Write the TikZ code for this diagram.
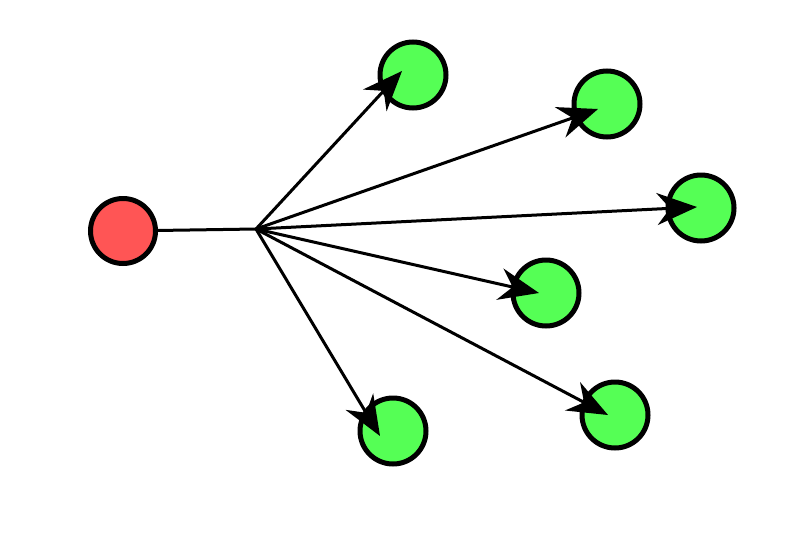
\documentclass[tikz,border=0pt]{standalone}
\usetikzlibrary{arrows.meta}
\definecolor{redfill}{HTML}{FF5555}
\definecolor{greenfill}{HTML}{55FF55}
\begin{document}
\begin{tikzpicture}[x=1pt,y=-1pt,
  src/.style={circle,draw=black,line width=5pt,fill=redfill,minimum size=65pt,inner sep=0pt},
  dst/.style={circle,draw=black,line width=5pt,fill=greenfill,minimum size=66pt,inner sep=0pt},
  edge/.style={draw=black,line width=3pt},
  arr/.style={edge,-{Stealth[length=40pt,width=32pt,inset=13pt]}}]
\useasboundingbox (0,0) rectangle (800,533);
\node[src] (r) at (123,231) {};
\node[dst] (g1) at (413,75) {};
\node[dst] (g2) at (607,104) {};
\node[dst] (g3) at (701,208) {};
\node[dst] (g4) at (546,293) {};
\node[dst] (g5) at (615,415) {};
\node[dst] (g6) at (393,431) {};
\coordinate (b) at (256,229);
\coordinate (t1) at (402,71);
\coordinate (t2) at (598,109);
\coordinate (t3) at (697,207);
\coordinate (t4) at (539,293);
\coordinate (t5) at (608,415);
\coordinate (t6) at (380,436);
\draw[edge] (r) -- (b);
\draw[arr] (b) -- (t1);
\draw[arr] (b) -- (t2);
\draw[arr] (b) -- (t3);
\draw[arr] (b) -- (t4);
\draw[arr] (b) -- (t5);
\draw[arr] (b) -- (t6);
\end{tikzpicture}
\end{document}
